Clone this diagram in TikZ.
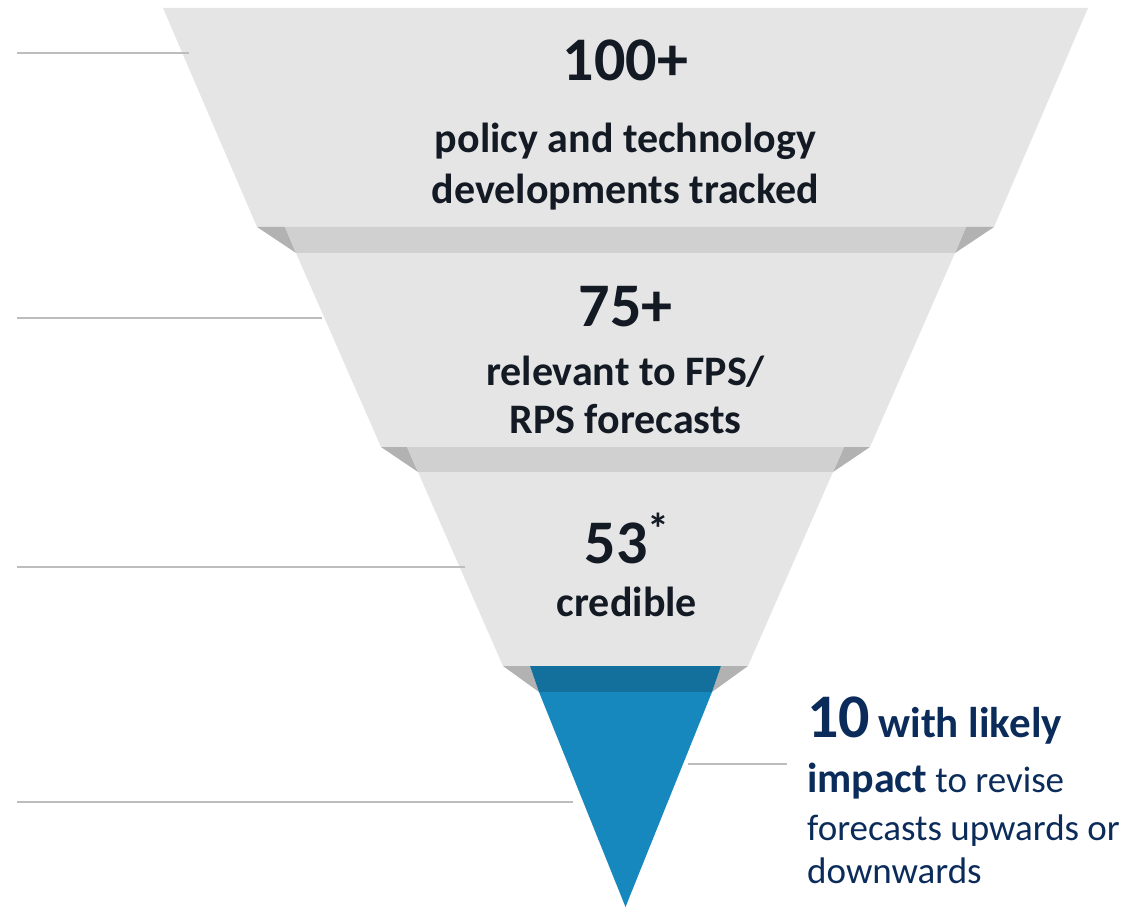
\documentclass[tikz,border=0pt]{standalone}
\usepackage{fontspec}
\setmainfont{Carlito}
\definecolor{fTop}{HTML}{E5E5E5}
\definecolor{fBand}{HTML}{D0D0D0}
\definecolor{fSide}{HTML}{B2B2B2}
\definecolor{bBand}{HTML}{136F9B}
\definecolor{bMain}{HTML}{1688BD}
\definecolor{txt}{HTML}{131A24}
\definecolor{navy}{HTML}{0B2C5A}
\definecolor{rule}{HTML}{BDBDBD}
\tikzset{
  big/.style={anchor=base, inner sep=0pt, text=txt, font=\fontsize{62}{70}\bfseries\selectfont},
  lbl/.style={anchor=base, inner sep=0pt, text=txt, font=\fontsize{42}{50}\bfseries\selectfont},
  rtx/.style={anchor=base west, inner sep=0pt, text=navy, font=\fontsize{37}{44}\selectfont},
  guide/.style={draw=rule, line width=1.2pt},
}
\begin{document}
\begin{tikzpicture}[x=1pt,y=-1pt]
\useasboundingbox (0,0) rectangle (1133,909);
% funnel level 1
\fill[fTop] (163,8) -- (1088,8) -- (994,227) -- (257,227) -- cycle;
\fill[fSide] (257,227) -- (285,227) -- (296,253) -- cycle;
\fill[fSide] (994,227) -- (966,227) -- (955,253) -- cycle;
\fill[fBand] (285,227) -- (966,227) -- (955,253) -- (296,253) -- cycle;
% level 2
\fill[fTop] (296,253) -- (955,253) -- (870,447) -- (381,447) -- cycle;
\fill[fSide] (381,447) -- (407,447) -- (418,472) -- cycle;
\fill[fSide] (870,447) -- (844,447) -- (833,472) -- cycle;
\fill[fBand] (407,447) -- (844,447) -- (833,472) -- (418,472) -- cycle;
% level 3
\fill[fTop] (418,472) -- (833,472) -- (748,666) -- (503,666) -- cycle;
\fill[fSide] (503,666) -- (530,666) -- (539,692) -- cycle;
\fill[fSide] (748,666) -- (721,666) -- (712,692) -- cycle;
% blue tip
\fill[bBand] (530,666) -- (721,666) -- (712,692) -- (539,692) -- cycle;
\fill[bMain] (539,692) -- (712,692) -- (625.5,907) -- cycle;
% guide lines
\coordinate (g1a) at (17,53);  \coordinate (g1b) at (189,53);
\coordinate (g2a) at (17,318); \coordinate (g2b) at (322,318);
\coordinate (g3a) at (17,567); \coordinate (g3b) at (465,567);
\coordinate (g4a) at (17,802); \coordinate (g4b) at (573,802);
\coordinate (g5a) at (688,764); \coordinate (g5b) at (787,764);
\draw[guide] (g1a) -- (g1b);
\draw[guide] (g2a) -- (g2b);
\draw[guide] (g3a) -- (g3b);
\draw[guide] (g4a) -- (g4b);
\draw[guide] (g5a) -- (g5b);
% texts
\node[big] (n1) at (625.5,81) {100+};
\node[lbl] (t1a) at (625.5,153) {policy and technology};
\node[lbl] (t1b) at (625.5,204) {developments tracked};
\node[big] (n2) at (625.5,327) {75+};
\node[lbl] (t2a) at (625.5,385) {relevant to FPS/};
\node[lbl] (t2b) at (625.5,433) {RPS forecasts};
\node[big] (n3) at (627,563) {53\raisebox{0.3em}{\fontsize{44}{44}\bfseries\selectfont *}};
\node[lbl] (t3) at (627,616) {credible};
\node[rtx] (r1) at (807,737) {{\fontsize{62}{70}\bfseries\selectfont 10} {\fontsize{43}{50}\bfseries\selectfont with likely}};
\node[rtx] (r2) at (807,792) {{\fontsize{42}{50}\bfseries\selectfont impact} to revise};
\node[rtx] (r3) at (807,840) {forecasts upwards or};
\node[rtx] (r4) at (807,883) {downwards};
\end{tikzpicture}
\end{document}
